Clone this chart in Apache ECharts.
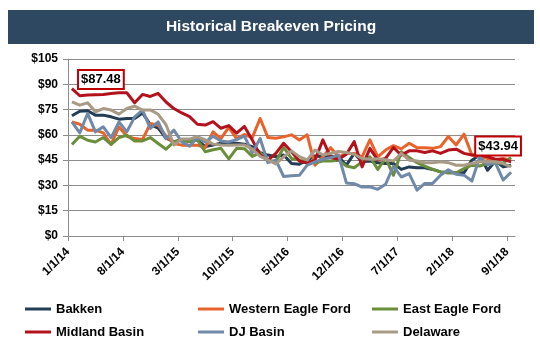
<!DOCTYPE html>
<html><head><meta charset="utf-8">
<script src="https://cdn.jsdelivr.net/npm/echarts@6/dist/echarts.min.js"></script>
<style>html,body{margin:0;padding:0;background:#fff}#c{width:540px;height:361px}</style>
</head><body><div id="c"></div>
<script>
const FONT = '"Liberation Sans", Arial, Helvetica, sans-serif';
const titleText = 'Historical Breakeven Pricing';

// monthly categories 1/1/14 .. 9/1/18
const months = [];
for (let y = 14; y <= 18; y++) for (let m = 1; m <= 12; m++) { if (y === 18 && m > 9) break; months.push(m + '/1/' + y); }
const tickLabels = ['1/1/14','8/1/14','3/1/15','10/1/15','5/1/16','12/1/16','7/1/17','2/1/18','9/1/18'];

const bakken = [71.3,74,74.3,71.7,71.7,70.7,69.3,69.7,69.7,73,66,64,58,56,57,56,57,53,54,55,55,55,54.5,53,49.5,48,47,48,43,42.6,45,47.5,47,47.3,47,42,49,44,44.5,43.5,43,43,39.5,41,40.5,40.5,39.5,38,37.5,37.5,37.5,45,48,39,44.5,41,42];
const westernEagleFord = [67.7,66.3,62.8,62.8,61.2,54.3,64.8,59.2,57.8,57.2,66.7,65.7,59.2,54.9,53.9,53.9,53.9,52.5,61.8,57.8,64.4,57.8,60.2,58.4,69.7,58.4,58,58.8,60,57,60,42,47,52.4,47,49,49,47,57,47,51,53.6,51.7,55,52.4,52.4,52,53,59,54,60.4,48,47,46,45,46,45];
const eastEagleFord = [54.3,59.2,56.8,55.8,58.4,54.3,58.4,59.8,56.4,56.4,58.4,54.9,51.5,55.8,57,56,57,50,51.2,52,45.8,52,51.8,47.2,49.5,45,44,52.5,46,45,44,43.5,44.5,44.5,45,41.5,40.5,44,47,39.5,46.2,36,50,46.5,43.5,41.5,39.5,38,37.5,37.5,40,42,41.5,43,43,43.5,46.5];
const midlandBasin = [87.48,83.2,83.6,83.8,84,84.5,85,85,79,84,82.8,84.6,79.5,75.6,73,70.8,66.3,65.8,67.8,63.9,65.5,61,65,57,48,45,49,55,50,44.5,43.2,45,57,46.5,45.5,48.5,56,41,52,45,46,52.5,48,50.5,50.5,49.5,50.5,49,51,51.5,49,48,48,47,45.5,45.5,43.94];
const djBasin = [67.7,61.2,72.7,61.8,64.8,58.4,67.7,61.8,70.7,74.7,63.8,67.7,57.8,62.8,55.8,53.3,58.4,55.8,59.2,56.4,55.8,57.2,59.2,49.3,57.8,43.5,45,35.3,35.8,36,42,44,45.5,46.5,48,31.5,31,29,29.2,27.7,30.7,41.5,35,37,27.2,31.2,31.2,36,39.3,36.6,36.1,32.6,46.8,42.3,43.4,33.2,37.8];
const delaware = [79.6,77.6,79,73.7,75.6,74.7,72.3,75.6,77,74.7,74.8,72.2,66,54,57.5,57.5,59,57,54.5,54,53.8,54,54,51.5,47.2,45.1,42.8,47,50.5,47.1,45.1,51,48,49.1,50.1,49.5,48.5,46,45.5,45.8,45.2,44.5,49,45,44.5,43.5,43.5,44,43.5,42,42,43,44,44,44,43,41];

const seriesNames = ['Bakken','Western Eagle Ford','East Eagle Ford','Midland Basin','DJ Basin','Delaware'];
const seriesData = [bakken, westernEagleFord, eastEagleFord, midlandBasin, djBasin, delaware];
const colors = ['#233D56','#E8622A','#6B8E3B','#B3121C','#7089A8','#A89A85'];

const chart = echarts.init(document.getElementById('c'), null, {renderer:'canvas'});
const gridColor = '#8C8C8C';
const boxLabel = {
  show: true, position: 'inside', color: '#000', fontFamily: FONT, fontWeight: 'bold', fontSize: 13,
  backgroundColor: '#fff', borderColor: '#C00000', borderWidth: 2, padding: [3, 2, 1, 2],
  formatter: p => '$' + Number(p.value).toFixed(2)
};
const legendBase = {
  orient: 'vertical', top: 302, icon: 'rect', itemWidth: 26, itemHeight: 3, itemGap: 9, padding: 0,
  textStyle: {color: '#000', fontFamily: FONT, fontWeight: 'bold', fontSize: 13, lineHeight: 14}
};

const series = seriesNames.map((n, k) => ({
  name: n, type: 'line', xAxisIndex: 0, yAxisIndex: 0, data: seriesData[k],
  symbol: 'none', showSymbol: false, smooth: false,
  lineStyle: {width: 3, color: colors[k], join: 'round'}, itemStyle: {color: colors[k]},
  emphasis: {disabled: true}
}));
const last = midlandBasin.length - 1;
series[5].markPoint = {
  symbol: 'circle', symbolSize: 0, silent: true,
  data: [
    {coord: [months[0], midlandBasin[0]], value: midlandBasin[0], label: Object.assign({}, boxLabel, {offset: [29, -9]})},
    {coord: [months[last], midlandBasin[last]], value: midlandBasin[last], label: Object.assign({}, boxLabel, {offset: [-13, -16]})}
  ]
};

chart.setOption({
  animation: false,
  backgroundColor: '#fff',
  textStyle: {fontFamily: FONT},
  graphic: [
    {type: 'rect', shape: {x: 8, y: 10, width: 526, height: 34}, style: {fill: '#2E4861'}, z: 0},
    {type: 'text', x: 271, y: 27, z: 1, style: {text: titleText, fill: '#fff', font: 'bold 15.5px ' + FONT, align: 'center', verticalAlign: 'middle'}}
  ],
  grid: {left: 68, right: 25, top: 59, bottom: 125, containLabel: false},
  legend: [
    Object.assign({}, legendBase, {left: 25, data: [seriesNames[0], seriesNames[3]]}),
    Object.assign({}, legendBase, {left: 198, data: [seriesNames[1], seriesNames[4]]}),
    Object.assign({}, legendBase, {left: 372, data: [seriesNames[2], seriesNames[5]]})
  ],
  xAxis: [
    {type: 'category', data: months, boundaryGap: true,
     axisLine: {show: true, lineStyle: {color: gridColor, width: 1}},
     axisTick: {show: false}, axisLabel: {show: false}, splitLine: {show: false}},
    {type: 'value', min: 0, max: months.length, interval: 7, position: 'bottom',
     axisLine: {show: false}, splitLine: {show: false},
     axisTick: {show: true, length: 5, lineStyle: {color: gridColor}},
     axisLabel: {show: true, rotate: 45, margin: 14, color: '#000', fontFamily: FONT, fontWeight: 'bold', fontSize: 12,
       showMaxLabel: false,
       formatter: v => (v % 7 === 0 && tickLabels[v / 7]) ? tickLabels[v / 7] : ''}}
  ],
  yAxis: {
    type: 'value', min: 0, max: 105, interval: 15,
    axisLine: {show: true, lineStyle: {color: gridColor, width: 1}},
    axisTick: {show: true, length: 5, lineStyle: {color: gridColor}},
    splitLine: {show: true, lineStyle: {color: gridColor, width: 1}},
    axisLabel: {margin: 10, color: '#000', fontFamily: FONT, fontWeight: 'bold', fontSize: 12, formatter: v => '$' + v}
  },
  series: series
});
</script>
</body></html>
